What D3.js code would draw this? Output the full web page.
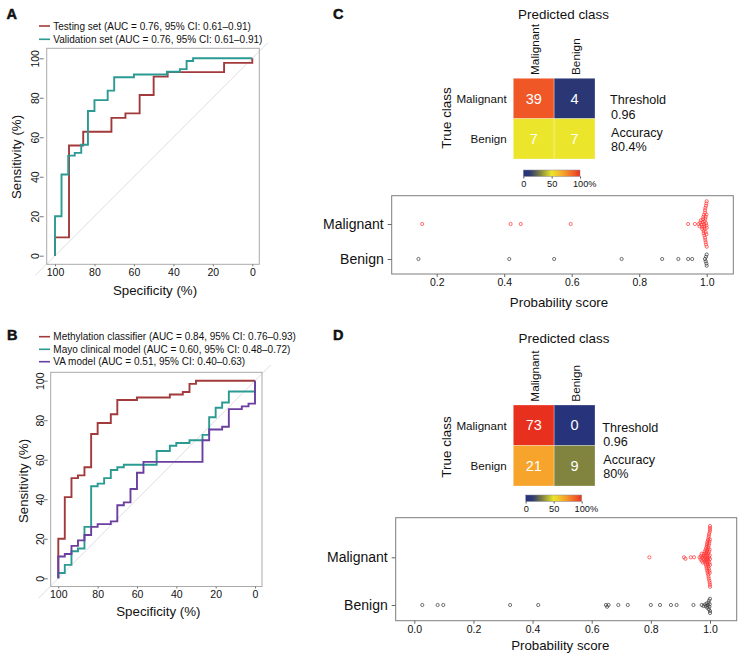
<!DOCTYPE html>
<html><head><meta charset="utf-8">
<script src="https://cdn.jsdelivr.net/npm/d3@7"></script>
<style>
body{margin:0;background:#fff}
svg{display:block}
text{font-family:"Liberation Sans",Arial,Helvetica,sans-serif;fill:#111}
</style>
</head><body>
<svg id="c" width="747" height="658"></svg>
<script>
// ---------------- DATA ----------------
const rocTicks = [100, 80, 60, 40, 20, 0];

// Panel A
const testingSpec = [100, 100, 92.9, 85.7, 71.4, 64.3, 57.1, 50.0, 42.9, 14.3, 0];
const testingSens = [0, 9.3, 55.8, 62.8, 69.8, 72.1, 81.4, 90.7, 93.0, 97.7, 100];
const validationSpec = [100, 100, 96.7, 93.3, 90, 86.7, 83.3, 80, 73.3, 70, 60, 43.3, 36.7, 33.3, 30, 0];
const validationSens = [0, 20.0, 41.1, 50.7, 52.1, 56.2, 73.3, 78.8, 83.6, 90.4, 91.8, 93.2, 94.5, 98.6, 100, 100];
const legendA = ["Testing set (AUC = 0.76, 95% CI: 0.61–0.91)", "Validation set (AUC = 0.76, 95% CI: 0.61–0.91)"];

// Panel B
const methylationSpec = [100, 100, 96.7, 93.3, 90, 86.7, 83.3, 80, 73.3, 70, 60, 43.3, 36.7, 33.3, 30, 0];
const methylationSens = [0, 20.0, 41.1, 50.7, 52.1, 56.2, 73.0, 78.6, 83.0, 90.2, 91.5, 93.0, 94.3, 98.4, 100, 100];
const mayoSpec = [100, 100, 96.7, 93.3, 90, 86.7, 83.3, 80, 76.7, 73.3, 70, 66.7, 50, 43.3, 40, 33.3, 26.7, 23.3, 20, 16.7, 13.3, 0];
const mayoSens = [0, 2.7, 6.8, 13.7, 15.1, 26.0, 46.6, 47.9, 50.7, 54.8, 56.2, 57.5, 64.4, 67.1, 68.5, 69.9, 72.6, 81.5, 86.3, 89.0, 94.5, 100];
const vaSpec = [100, 100, 96.7, 93.3, 90, 86.7, 83.3, 80, 73.3, 70, 66.7, 63.3, 60, 56.7, 26.7, 23.3, 16.7, 13.3, 6.7, 3.3, 0];
const vaSens = [0, 11.0, 12.3, 16.4, 19.2, 21.9, 26.0, 27.4, 28.8, 37.0, 38.4, 45.2, 53.4, 58.9, 69.9, 75.3, 76.7, 85.6, 87.0, 88.4, 100];
const legendB = ["Methylation classifier (AUC = 0.84, 95% CI: 0.76–0.93)", "Mayo clinical model (AUC = 0.60, 95% CI: 0.48–0.72)", "VA model (AUC = 0.51, 95% CI: 0.40–0.63)"];

// Panels C / D : confusion matrices
const classes = ["Malignant", "Benign"];
const confusionC = [[39, 4], [7, 7]];
const confusionD = [[73, 0], [21, 9]];
const statsC = ["Threshold", "0.96", "Accuracy", "80.4%"];
const statsD = ["Threshold", "0.96", "Accuracy", "80%"];
const colorbarTicks = [0, 50, 100];

// Panels C / D : probability scores
const stripTicksC = [0.2, 0.4, 0.6, 0.8, 1.0];
const stripTicksD = [0.0, 0.2, 0.4, 0.6, 0.8, 1.0];
const scoresCMalignant = [0.157, 0.419, 0.449, 0.597, 0.945, 0.965,
  0.976, 0.979, 0.981, 0.983, 0.985, 0.986, 0.987, 0.988, 0.989, 0.990,
  0.991, 0.991, 0.992, 0.992, 0.993, 0.993, 0.994, 0.994,
  0.995, 0.995, 0.995, 0.996, 0.996, 0.996, 0.997, 0.997, 0.997,
  0.998, 0.998, 0.998, 0.999, 0.999, 0.999, 0.999, 1.0, 1.0, 1.0];
const scoresCBenign = [0.146, 0.415, 0.548, 0.748, 0.868, 0.916, 0.945, 0.957,
  0.995, 0.997, 0.998, 0.999, 1.0, 1.0];
const scoresDMalignant = [0.795, 0.912, 0.917, 0.935, 0.946, 0.972,
  0.965, 0.968, 0.970, 0.972, 0.974, 0.976, 0.978, 0.979, 0.980, 0.981, 0.982, 0.983, 0.984,
  0.985, 0.985, 0.986, 0.986, 0.987, 0.987, 0.988, 0.988, 0.989, 0.989,
  0.990, 0.990, 0.990, 0.991, 0.991, 0.991, 0.992, 0.992, 0.992,
  0.993, 0.993, 0.993, 0.994, 0.994, 0.994,
  0.995, 0.995, 0.995, 0.995, 0.996, 0.996, 0.996, 0.996,
  0.997, 0.997, 0.997, 0.997, 0.998, 0.998, 0.998, 0.998,
  0.999, 0.999, 0.999, 0.999, 0.999,
  1.0, 1.0, 1.0, 1.0, 1.0, 1.0, 1.0, 1.0];
const scoresDBenign = [0.027, 0.079, 0.098, 0.324, 0.419, 0.648, 0.652, 0.657,
  0.690, 0.722, 0.800, 0.831, 0.868, 0.887, 0.944,
  0.972, 0.978, 0.983, 0.986, 0.989, 0.991, 0.993, 0.995, 0.996, 0.997,
  0.998, 0.999, 1.0, 1.0, 1.0];

// ---------------- STYLE ----------------
const colRed = "#a23a3b", colTeal = "#2b9a93", colPurple = "#6b3fa0";
const heatColor = d3.scaleLinear()
  .domain([0, 0.12, 0.3, 0.5, 0.7, 0.9, 1])
  .range(["#27337a", "#2c3874", "#80843f", "#ebe62b", "#f6a42b", "#f05a28", "#e8301e"]);

const svg = d3.select("#c");
svg.append("rect").attr("width", 747).attr("height", 658).attr("fill", "#fff");

function txt(x, y, s, size, anchor, extra) {
  const t = svg.append("text").attr("x", x).attr("y", y).attr("dy", "0.35em")
    .attr("font-size", size).attr("text-anchor", anchor || "start").text(s);
  if (extra) extra(t);
  return t;
}

// panel letters
[["A", 6.5, 19], ["C", 333, 19], ["B", 7, 340], ["D", 333, 340]].forEach(([l, x, y]) => {
  svg.append("text").attr("x", x).attr("y", y).attr("font-size", 14.5)
    .attr("font-weight", "bold").attr("stroke", "#111").attr("stroke-width", 0.5).text(l);
});

// ---------------- ROC PANELS ----------------
function rocPanel(L, series, legend) {
  const x = d3.scaleLinear().domain([100, 0]).range([L.x100, L.x0]);
  const y = d3.scaleLinear().domain([0, 100]).range([L.y0, L.y100]);
  const g = svg.append("g");
  g.append("line").attr("x1", x(110)).attr("y1", y(-10)).attr("x2", x(-8)).attr("y2", y(108))
    .attr("stroke", "#d6d6d6").attr("stroke-width", 0.8);
  g.append("rect").attr("x", L.box[0]).attr("y", L.box[1])
    .attr("width", L.box[2] - L.box[0]).attr("height", L.box[3] - L.box[1])
    .attr("fill", "none").attr("stroke", "#aaa").attr("stroke-width", 1);

  const xa = g.append("g").attr("transform", `translate(0,${L.box[3]})`)
    .call(d3.axisBottom(x).tickValues(rocTicks).tickSize(2).tickPadding(2));
  xa.select(".domain").remove();
  xa.selectAll("line").attr("stroke", "#777");
  xa.selectAll("text").attr("font-size", 10.5).attr("fill", "#222");

  const ya = g.append("g").attr("transform", `translate(${L.box[0] - 3},0)`)
    .call(d3.axisLeft(y).tickValues(rocTicks).tickSize(4));
  ya.select(".domain").remove();
  ya.selectAll("line").attr("stroke", "#777");
  ya.selectAll("text").attr("font-size", 10.5).attr("fill", "#222")
    .attr("transform", "rotate(-90)").attr("x", 0).attr("y", -(L.box[0] - 3 - L.yLabX - 3.8))
    .attr("dy", 0).attr("text-anchor", "middle");

  const line = d3.line().x(d => x(d[0])).y(d => y(d[1])).curve(d3.curveStepAfter);
  series.forEach(s => {
    g.append("path").datum(d3.zip(s.spec, s.sens)).attr("d", line)
      .attr("fill", "none").attr("stroke", s.color).attr("stroke-width", 1.9)
      .attr("stroke-linejoin", "miter");
  });

  legend.forEach((t, i) => {
    g.append("line").attr("x1", 39).attr("x2", 50).attr("y1", L.legY[i]).attr("y2", L.legY[i])
      .attr("stroke", series[i].color).attr("stroke-width", 1.6);
    txt(53.3, L.legY[i], t, 10, "start", s => s.attr("fill", "#222"));
  });

  txt((L.box[0] + L.box[2]) / 2 + 2, L.xTitY, "Specificity (%)", 13.3, "middle");
  svg.append("text").attr("transform", `translate(${L.yTitX},${L.yTitY}) rotate(-90)`)
    .attr("dy", "0.35em").attr("font-size", 13.3).attr("text-anchor", "middle").text("Sensitivity (%)");
}

rocPanel({x100: 55, x0: 252.3, y0: 255.7, y100: 58.3, box: [46.7, 48.3, 259.3, 264.3],
  yLabX: 35, xTitY: 290, yTitX: 16.7, yTitY: 157, legY: [26, 39.3]},
  [{spec: testingSpec, sens: testingSens, color: colRed},
   {spec: validationSpec, sens: validationSens, color: colTeal}], legendA);

rocPanel({x100: 58.3, x0: 255, y0: 578.3, y100: 380.7, box: [50.7, 372.3, 262, 586.5],
  yLabX: 40, xTitY: 611.7, yTitX: 23.3, yTitY: 481, legY: [336.7, 349.3, 361.7]},
  [{spec: methylationSpec, sens: methylationSens, color: colRed},
   {spec: mayoSpec, sens: mayoSens, color: colTeal},
   {spec: vaSpec, sens: vaSens, color: colPurple}], legendB);

// ---------------- HEATMAPS ----------------
let gradId = 0;
function heatmap(L, mat, stats) {
  const x = d3.scaleBand().domain(classes).range([L.left, L.right]);
  const y = d3.scaleBand().domain(classes).range([L.top, L.bottom]);
  const g = svg.append("g");
  classes.forEach((r, i) => {
    const tot = d3.sum(mat[i]);
    classes.forEach((c, j) => {
      g.append("rect").attr("x", x(c)).attr("y", y(r)).attr("width", x.bandwidth()).attr("height", y.bandwidth())
        .attr("fill", heatColor(mat[i][j] / tot)).attr("stroke", "#fff").attr("stroke-opacity", 0.35).attr("stroke-width", 0.8);
      g.append("text").attr("x", x(c) + x.bandwidth() / 2).attr("y", y(r) + y.bandwidth() / 2)
        .attr("dy", "0.36em").attr("text-anchor", "middle").attr("font-size", 14.5)
        .style("fill", "#fff").text(mat[i][j]);
    });
    txt(L.left - 6.6, y(r) + y.bandwidth() / 2 + 0.5, r, 11.6, "end");
  });
  classes.forEach(c => {
    svg.append("text").attr("transform", `translate(${x(c) + x.bandwidth() / 2 + 1.5},${L.top - 3.3}) rotate(-90)`)
      .attr("dy", "0.35em").attr("font-size", 11.8).attr("text-anchor", "start").text(c);
  });
  txt(L.predX, L.predY, "Predicted class", 13.4, "middle");
  svg.append("text").attr("transform", `translate(446,${L.trueY}) rotate(-90)`)
    .attr("dy", "0.35em").attr("font-size", 13.4).attr("text-anchor", "middle").text("True class");
  stats.forEach((s, i) => txt(L.statX + (i ? 1 : 0), L.statY[i], s, 12.6, "start"));

  // colour bar
  const id = "grad" + (gradId++);
  const grad = svg.append("defs").append("linearGradient").attr("id", id);
  d3.range(0, 1.0001, 0.05).forEach(t => grad.append("stop").attr("offset", t).attr("stop-color", heatColor(t)));
  const cb = d3.scaleLinear().domain([0, 100]).range([L.cbL, L.cbR]);
  g.append("rect").attr("x", L.cbL).attr("y", L.cbT).attr("width", L.cbR - L.cbL).attr("height", L.cbH)
    .attr("fill", `url(#${id})`).attr("stroke", "#8a8a9a").attr("stroke-width", 0.5);
  const ca = g.append("g").attr("transform", `translate(0,${L.cbT + L.cbH})`)
    .call(d3.axisBottom(cb).tickValues(colorbarTicks).tickSize(2).tickPadding(1.5)
      .tickFormat(d => d === 100 ? "100%" : d));
  ca.select(".domain").remove();
  ca.selectAll("line").attr("stroke", "#555");
  ca.selectAll("text").attr("font-size", 9.2).attr("fill", "#111");
  ca.selectAll("text").filter(d => d === 100).attr("text-anchor", "start").attr("x", -7.6);
}

heatmap({left: 513.3, right: 595, top: 78.3, bottom: 159, predX: 563.5, predY: 14, trueY: 118,
  statX: 610, statY: [100, 114.3, 132.5, 146.8], cbL: 523.3, cbR: 580, cbT: 170, cbH: 6.5},
  confusionC, statsC);
heatmap({left: 513.3, right: 595, top: 405, bottom: 486, predX: 564, predY: 338.3, trueY: 447,
  statX: 602.3, statY: [427.8, 442, 459.6, 473.8], cbL: 525.7, cbR: 581.7, cbT: 495, cbH: 6.5},
  confusionD, statsD);

// ---------------- STRIP PLOTS ----------------
function swarm(values, xs, cy, d) {
  const pts = values.map(v => ({v, x: xs(v)})).sort((a, b) => a.x - b.x);
  const placed = [];
  pts.forEach(p => {
    let off = null;
    for (let k = 0; k < 400 && off === null; k++) {
      const cands = k === 0 ? [0] : [k * 0.25, -k * 0.25];
      for (const o of cands) {
        if (placed.every(q => (q.x - p.x) ** 2 + (q.dy - o) ** 2 >= d * d)) { off = o; break; }
      }
    }
    p.dy = off || 0; p.y = cy + p.dy; placed.push(p);
  });
  return pts;
}

function stripPanel(L, ticks, mal, ben) {
  const x = d3.scaleLinear().domain([L.v0, L.v1]).range([L.x0, L.x1]);
  const y = d3.scalePoint().domain(classes).range([L.yMal, L.yBen]);
  const g = svg.append("g");
  g.append("rect").attr("x", L.box[0]).attr("y", L.box[1]).attr("width", L.box[2] - L.box[0])
    .attr("height", L.box[3] - L.box[1]).attr("fill", "none").attr("stroke", "#7d7d7d").attr("stroke-width", 1);
  const xa = g.append("g").attr("transform", `translate(0,${L.box[3]})`)
    .call(d3.axisBottom(x).tickValues(ticks).tickFormat(d3.format(".1f")).tickSize(3).tickPadding(2));
  xa.select(".domain").remove();
  xa.selectAll("line").attr("stroke", "#666");
  xa.selectAll("text").attr("font-size", 10.5).attr("fill", "#222");
  const ya = g.append("g").attr("transform", `translate(${L.box[0]},0)`)
    .call(d3.axisLeft(y).tickSize(4).tickPadding(4));
  ya.select(".domain").remove();
  ya.selectAll("line").attr("stroke", "#666");
  ya.selectAll("text").attr("font-size", 14).attr("fill", "#111");

  [[mal, "Malignant", "#ff2a2a"], [ben, "Benign", "#333"]].forEach(([vals, cat, col]) => {
    g.selectAll(null).data(swarm(vals, x, y(cat), L.d)).join("circle")
      .attr("cx", p => p.x).attr("cy", p => p.y).attr("r", 1.6)
      .attr("fill", "none").attr("stroke", col).attr("stroke-width", 0.8).attr("stroke-opacity", 0.85);
  });
  txt(L.titX, L.titY, "Probability score", 13.3, "middle");
}

stripPanel({v0: 0.2, v1: 1.0, x0: 436.7, x1: 706.7, yMal: 224, yBen: 259,
  box: [391.7, 195.7, 733.3, 274], titX: 559, titY: 302.3, d: 2.25},
  stripTicksC, scoresCMalignant, scoresCBenign);
stripPanel({v0: 0.0, v1: 1.0, x0: 414.3, x1: 710, yMal: 557.3, yBen: 605,
  box: [395.7, 517.7, 736.7, 620.7], titX: 560.3, titY: 645, d: 1.95},
  stripTicksD, scoresDMalignant, scoresDBenign);
</script>
</body></html>
